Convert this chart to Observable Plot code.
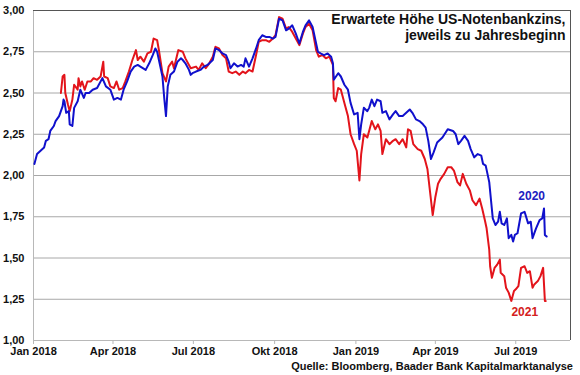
<!DOCTYPE html>
<html><head><meta charset="utf-8">
<script src="https://cdn.jsdelivr.net/npm/d3@7"></script>
<script src="https://cdn.jsdelivr.net/npm/@observablehq/plot@0.6"></script>
<style>
body{margin:0;background:#fff;font-family:"Liberation Sans",Arial,sans-serif;}
#chart{width:580px;height:375px;position:relative;overflow:hidden}
#caption{position:absolute;right:7px;top:359px;font-weight:bold;font-size:11px;line-height:14px;color:#111;}
</style></head><body>
<div id="chart"><div id="plot"></div><div id="caption">Quelle: Bloomberg, Baader Bank Kapitalmarktanalyse</div></div>
<script>
const title = "Erwartete Höhe US-Notenbankzins,\njeweils zu Jahresbeginn";
const seriesNames = ["2020", "2021"];
const xDomain = ["2018-01-01", "2019-09-01"];
const xTickDates = ["2018-01-01","2018-04-01","2018-07-01","2018-10-01","2019-01-01","2019-04-01","2019-07-01"];
const xTickLabels = ["Jan 2018","Apr 2018","Jul 2018","Okt 2018","Jan 2019","Apr 2019","Jul 2019"];
const yTicks = [1.00,1.25,1.50,1.75,2.00,2.25,2.50,2.75,3.00];

const series2020 = [
["2018-01-02",2.07],["2018-01-05",2.13],["2018-01-09",2.15],["2018-01-13",2.17],["2018-01-15",2.21],["2018-01-18",2.22],["2018-01-20",2.27],["2018-01-24",2.30],["2018-01-26",2.33],["2018-01-30",2.36],
["2018-02-03",2.42],["2018-02-04",2.46],["2018-02-05",2.45],["2018-02-07",2.38],["2018-02-10",2.39],["2018-02-11",2.31],["2018-02-14",2.30],["2018-02-16",2.41],["2018-02-20",2.45],["2018-02-23",2.52],["2018-02-27",2.47],
["2018-03-01",2.50],["2018-03-05",2.50],["2018-03-09",2.52],["2018-03-14",2.53],["2018-03-20",2.59],["2018-03-24",2.54],["2018-03-29",2.52],
["2018-04-02",2.46],["2018-04-06",2.47],["2018-04-10",2.46],["2018-04-13",2.52],["2018-04-17",2.57],["2018-04-21",2.63],["2018-04-25",2.66],["2018-04-29",2.67],
["2018-05-02",2.66],["2018-05-08",2.64],["2018-05-12",2.68],["2018-05-16",2.73],["2018-05-19",2.77],["2018-05-21",2.75],["2018-05-23",2.70],["2018-05-27",2.60],["2018-05-29",2.47],["2018-05-31",2.36],
["2018-06-02",2.54],["2018-06-05",2.61],["2018-06-09",2.63],["2018-06-13",2.69],["2018-06-17",2.71],["2018-06-19",2.70],["2018-06-22",2.68],["2018-06-26",2.64],["2018-06-28",2.61],["2018-06-30",2.62],
["2018-07-04",2.63],["2018-07-09",2.64],["2018-07-13",2.66],["2018-07-17",2.67],["2018-07-23",2.70],["2018-07-26",2.77],["2018-07-30",2.76],
["2018-08-03",2.74],["2018-08-07",2.73],["2018-08-10",2.69],["2018-08-12",2.65],["2018-08-16",2.68],["2018-08-20",2.66],["2018-08-24",2.67],["2018-08-27",2.66],["2018-08-29",2.71],
["2018-09-02",2.66],["2018-09-06",2.71],["2018-09-10",2.77],["2018-09-13",2.82],["2018-09-17",2.85],["2018-09-21",2.84],["2018-09-25",2.84],["2018-09-29",2.83],
["2018-10-02",2.84],["2018-10-06",2.95],["2018-10-10",2.94],["2018-10-14",2.88],["2018-10-17",2.89],["2018-10-21",2.91],["2018-10-25",2.86],["2018-10-29",2.80],
["2018-11-02",2.87],["2018-11-05",2.91],["2018-11-09",2.94],["2018-11-13",2.90],["2018-11-17",2.80],["2018-11-19",2.75],["2018-11-22",2.74],["2018-11-26",2.73],["2018-11-30",2.74],
["2018-12-04",2.72],["2018-12-06",2.68],["2018-12-07",2.58],["2018-12-12",2.62],["2018-12-15",2.60],["2018-12-19",2.55],["2018-12-23",2.52],["2018-12-26",2.44],["2018-12-30",2.37],
["2019-01-03",2.38],["2019-01-05",2.22],["2019-01-07",2.31],["2019-01-10",2.41],["2019-01-14",2.39],["2019-01-16",2.41],["2019-01-19",2.46],["2019-01-22",2.42],["2019-01-25",2.46],["2019-01-29",2.45],["2019-01-31",2.38],
["2019-02-04",2.39],["2019-02-08",2.34],["2019-02-12",2.37],["2019-02-15",2.39],["2019-02-19",2.36],["2019-02-23",2.36],["2019-02-27",2.38],
["2019-03-03",2.40],["2019-03-06",2.38],["2019-03-10",2.34],["2019-03-14",2.33],["2019-03-18",2.31],["2019-03-21",2.29],["2019-03-24",2.21],["2019-03-27",2.10],["2019-03-30",2.14],
["2019-04-03",2.20],["2019-04-09",2.23],["2019-04-15",2.28],["2019-04-21",2.27],["2019-04-24",2.25],["2019-04-27",2.19],["2019-04-30",2.21],
["2019-05-04",2.24],["2019-05-08",2.21],["2019-05-11",2.16],["2019-05-15",2.11],["2019-05-19",2.13],["2019-05-23",2.12],["2019-05-25",2.07],["2019-05-28",2.06],
["2019-06-01",1.96],["2019-06-03",1.85],["2019-06-05",1.74],["2019-06-08",1.70],["2019-06-11",1.72],["2019-06-13",1.78],["2019-06-15",1.71],["2019-06-18",1.70],["2019-06-21",1.74],["2019-06-23",1.62],["2019-06-26",1.64],["2019-06-28",1.60],["2019-06-30",1.64],
["2019-07-03",1.65],["2019-07-07",1.77],["2019-07-11",1.78],["2019-07-15",1.71],["2019-07-18",1.72],["2019-07-20",1.62],["2019-07-24",1.68],["2019-07-28",1.73],["2019-07-31",1.74],
["2019-08-02",1.80],["2019-08-03",1.64],["2019-08-05",1.63]
];

const series2021 = [
["2018-02-01",2.50],["2018-02-03",2.60],["2018-02-05",2.61],["2018-02-06",2.50],["2018-02-09",2.43],["2018-02-11",2.39],["2018-02-14",2.46],["2018-02-16",2.55],["2018-02-20",2.52],["2018-02-21",2.59],["2018-02-23",2.54],["2018-02-25",2.57],["2018-02-28",2.52],
["2018-03-03",2.57],["2018-03-07",2.57],["2018-03-10",2.59],["2018-03-14",2.58],["2018-03-18",2.60],["2018-03-21",2.69],["2018-03-22",2.60],["2018-03-26",2.59],["2018-03-29",2.54],
["2018-04-02",2.53],["2018-04-05",2.57],["2018-04-08",2.52],["2018-04-12",2.53],["2018-04-15",2.57],["2018-04-19",2.63],["2018-04-23",2.70],["2018-04-27",2.76],["2018-04-29",2.70],
["2018-05-02",2.72],["2018-05-06",2.69],["2018-05-10",2.74],["2018-05-14",2.75],["2018-05-17",2.83],["2018-05-21",2.82],["2018-05-23",2.76],["2018-05-27",2.62],["2018-05-31",2.57],
["2018-06-03",2.66],["2018-06-07",2.69],["2018-06-09",2.65],["2018-06-14",2.76],["2018-06-19",2.75],["2018-06-22",2.71],["2018-06-28",2.65],
["2018-07-04",2.66],["2018-07-07",2.64],["2018-07-11",2.68],["2018-07-15",2.65],["2018-07-19",2.68],["2018-07-23",2.72],["2018-07-26",2.78],["2018-07-30",2.77],
["2018-08-03",2.73],["2018-08-07",2.71],["2018-08-10",2.63],["2018-08-14",2.62],["2018-08-18",2.63],["2018-08-22",2.61],["2018-08-26",2.63],["2018-08-29",2.62],
["2018-09-02",2.64],["2018-09-06",2.63],["2018-09-10",2.73],["2018-09-13",2.81],["2018-09-17",2.82],["2018-09-21",2.82],["2018-09-25",2.81],["2018-09-29",2.83],
["2018-10-02",2.85],["2018-10-06",2.96],["2018-10-10",2.95],["2018-10-14",2.89],["2018-10-17",2.90],["2018-10-21",2.87],["2018-10-25",2.83],["2018-10-29",2.79],
["2018-11-02",2.86],["2018-11-05",2.90],["2018-11-09",2.92],["2018-11-13",2.88],["2018-11-17",2.76],["2018-11-20",2.72],["2018-11-24",2.73],["2018-11-28",2.71],
["2018-12-02",2.72],["2018-12-06",2.67],["2018-12-07",2.47],["2018-12-09",2.45],["2018-12-12",2.53],["2018-12-15",2.52],["2018-12-19",2.44],["2018-12-23",2.36],["2018-12-26",2.25],["2018-12-30",2.19],
["2019-01-02",2.15],["2019-01-05",1.97],["2019-01-07",2.13],["2019-01-10",2.25],["2019-01-14",2.23],["2019-01-16",2.27],["2019-01-19",2.33],["2019-01-23",2.28],["2019-01-26",2.31],["2019-01-29",2.27],["2019-01-31",2.13],
["2019-02-04",2.22],["2019-02-08",2.19],["2019-02-12",2.21],["2019-02-15",2.22],["2019-02-19",2.19],["2019-02-23",2.22],["2019-02-27",2.17],
["2019-03-01",2.28],["2019-03-04",2.27],["2019-03-07",2.19],["2019-03-12",2.16],["2019-03-16",2.15],["2019-03-20",2.10],["2019-03-23",2.04],["2019-03-26",1.90],["2019-03-29",1.76],
["2019-04-01",1.87],["2019-04-04",1.95],["2019-04-07",1.98],["2019-04-11",2.01],["2019-04-15",2.05],["2019-04-19",2.05],["2019-04-22",2.03],["2019-04-26",1.96],["2019-04-29",1.94],
["2019-05-02",2.01],["2019-05-06",1.95],["2019-05-10",1.91],["2019-05-13",1.85],["2019-05-17",1.82],["2019-05-21",1.86],["2019-05-24",1.80],["2019-05-27",1.73],["2019-05-29",1.68],
["2019-06-01",1.55],["2019-06-02",1.45],["2019-06-04",1.38],["2019-06-07",1.44],["2019-06-10",1.46],["2019-06-13",1.49],["2019-06-14",1.41],["2019-06-18",1.39],["2019-06-20",1.32],["2019-06-23",1.29],["2019-06-26",1.24],["2019-06-29",1.30],
["2019-07-01",1.31],["2019-07-04",1.33],["2019-07-07",1.44],["2019-07-11",1.45],["2019-07-14",1.41],["2019-07-17",1.42],["2019-07-20",1.32],["2019-07-22",1.34],["2019-07-26",1.36],["2019-07-29",1.39],
["2019-08-01",1.44],["2019-08-03",1.24],["2019-08-04",1.24]
];

const parse = d3.utcParse("%Y-%m-%d");
const toRows = (arr, name) => arr.map(([d, v]) => ({date: parse(d), value: v, series: name}));
const rows2020 = toRows(series2020, seriesNames[0]);
const rows2021 = toRows(series2021, seriesNames[1]);
const domain = xDomain.map(parse);
const tickDates = xTickDates.map(parse);
const blue = "#1010cc", red = "#e3141b";
const fmtY = d => d.toFixed(2).replace(".", ",");

const chart = Plot.plot({
  width: 580, height: 360,
  marginLeft: 33, marginRight: 10, marginTop: 10, marginBottom: 20,
  style: {fontFamily: "'Liberation Sans', Arial, sans-serif", fontSize: "11px", fontWeight: "bold", color: "#111", background: "#fff"},
  x: {type: "utc", domain},
  y: {domain: [1, 3]},
  marks: [
    Plot.ruleY(yTicks.slice(1), {stroke: "#a8a8a8", strokeWidth: 1}),
    Plot.ruleY([yTicks[0]], {stroke: "#b8b8b8", strokeWidth: 1}),
    Plot.ruleX([domain[0]], {stroke: "#b8b8b8", strokeWidth: 1}),
    Plot.ruleY([yTicks[yTicks.length - 1]], {stroke: "#555", strokeWidth: 1}),
    Plot.ruleX([domain[1]], {stroke: "#555", strokeWidth: 1}),
    Plot.axisY({ticks: yTicks, tickFormat: fmtY, tickSize: 0, tickPadding: 9, label: null}),
    Plot.axisX({ticks: tickDates, tickFormat: (d, i) => xTickLabels[i], tickSize: 4, tickPadding: 3, label: null, stroke: "#b8b8b8"}),
    Plot.line(rows2021, {x: "date", y: "value", stroke: red, strokeWidth: 2}),
    Plot.line(rows2020, {x: "date", y: "value", stroke: blue, strokeWidth: 2}),
    Plot.text([rows2020[rows2020.length - 1]], {x: "date", y: "value", text: "series", fill: "#2020c0", fontSize: 12, fontWeight: "bold", dx: -15, dy: -40}),
    Plot.text([rows2021[rows2021.length - 1]], {x: "date", y: "value", text: "series", fill: "#d42020", fontSize: 12, fontWeight: "bold", dx: -21, dy: 11}),
    Plot.text([title], {frameAnchor: "top-right", text: d => d, textAnchor: "end", lineAnchor: "top", lineHeight: 1.15, dx: -5, dy: 2, fontSize: 14, fontWeight: "bold", fill: "#111"})
  ]
});
document.getElementById("plot").appendChild(chart);
</script>
</body></html>
